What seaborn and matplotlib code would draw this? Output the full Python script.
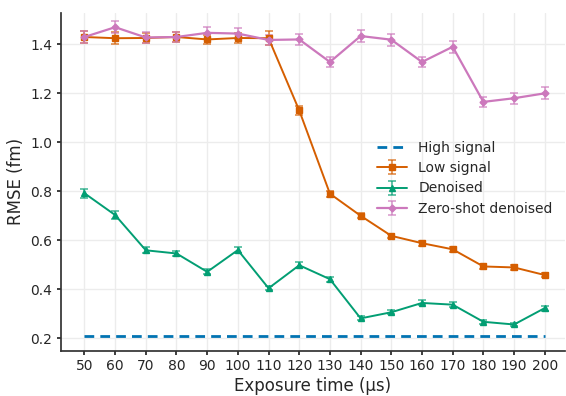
import matplotlib
matplotlib.use("Agg")
import matplotlib.pyplot as plt
import seaborn as sns
import numpy as np
import pandas as pd

exposure = [50, 60, 70, 80, 90, 100, 110, 120, 130, 140, 150, 160, 170, 180, 190, 200]
high_signal = [0.21] * 16
low_signal = [1.43, 1.425, 1.426, 1.43, 1.42, 1.426, 1.425, 1.13, 0.79, 0.70, 0.618, 0.588, 0.563, 0.493, 0.489, 0.458]
low_err = [0.025, 0.025, 0.022, 0.022, 0.02, 0.022, 0.028, 0.02, 0.012, 0.01, 0.008, 0.01, 0.01, 0.01, 0.01, 0.01]
denoised = [0.792, 0.703, 0.559, 0.546, 0.471, 0.56, 0.404, 0.498, 0.441, 0.281, 0.306, 0.344, 0.337, 0.267, 0.256, 0.323]
den_err = [0.018, 0.016, 0.012, 0.012, 0.01, 0.014, 0.008, 0.012, 0.01, 0.008, 0.008, 0.01, 0.01, 0.008, 0.008, 0.01]
zeroshot = [1.43, 1.47, 1.428, 1.43, 1.447, 1.444, 1.418, 1.42, 1.328, 1.434, 1.419, 1.328, 1.39, 1.165, 1.18, 1.20]
zs_err = [0.025, 0.025, 0.022, 0.022, 0.025, 0.024, 0.02, 0.022, 0.022, 0.024, 0.024, 0.02, 0.025, 0.022, 0.022, 0.024]

sns.set_theme(style="whitegrid", rc={
    "axes.edgecolor": ".2", "grid.color": "#ececec", "xtick.bottom": True, "ytick.left": True,
    "xtick.major.size": 3, "ytick.major.size": 3, "xtick.color": ".15", "ytick.color": ".15",
})
plt.rcParams["font.family"] = ["DejaVu Sans"]
pal = sns.color_palette("colorblind")

fig = plt.figure(figsize=(5.66, 3.96), dpi=100)
ax = fig.add_axes([60.5 / 566, 1 - 350.7 / 396, (565 - 60.5) / 566, (350.7 - 13) / 396])

def light(c, a=0.65):
    return (c[0], c[1], c[2], a)

df = pd.DataFrame({"x": exposure, "y": high_signal})
sns.lineplot(data=df, x="x", y="y", ax=ax, color=pal[0], linestyle=(0, (3.5, 2.2)), lw=2, label="High signal")
ax.errorbar(exposure, low_signal, yerr=low_err, color=pal[3], marker="s", ms=4.5, lw=1.4,
            capsize=3, elinewidth=1.3, capthick=1.3, ecolor=light(pal[3]), label="Low signal")
ax.errorbar(exposure, denoised, yerr=den_err, color=pal[2], marker="^", ms=5, lw=1.4,
            capsize=3, elinewidth=1.3, capthick=1.3, ecolor=light(pal[2]), label="Denoised")
ax.errorbar(exposure, zeroshot, yerr=zs_err, color=pal[4], marker="D", ms=3.5, lw=1.6,
            capsize=3, elinewidth=1.3, capthick=1.3, ecolor=light(pal[4]), label="Zero-shot denoised")

ax.set_xticks(exposure)
ax.set_xlim(42.2, 206.6)
ax.set_ylim(0.149, 1.528)
ax.set_yticks([0.2, 0.4, 0.6, 0.8, 1.0, 1.2, 1.4])
ax.tick_params(labelsize=10, pad=3)
ax.set_xlabel("Exposure time (µs)", fontsize=12, labelpad=3)
ax.set_ylabel("RMSE (fm)", fontsize=12)
sns.despine(ax=ax)
ax.legend(loc="upper left", bbox_to_anchor=(0.628, 0.621), frameon=False, fontsize=10,
          handlelength=2.15, handletextpad=0.8, labelspacing=0.45, borderpad=0, borderaxespad=0)

fig.savefig("out.png", dpi=100)
